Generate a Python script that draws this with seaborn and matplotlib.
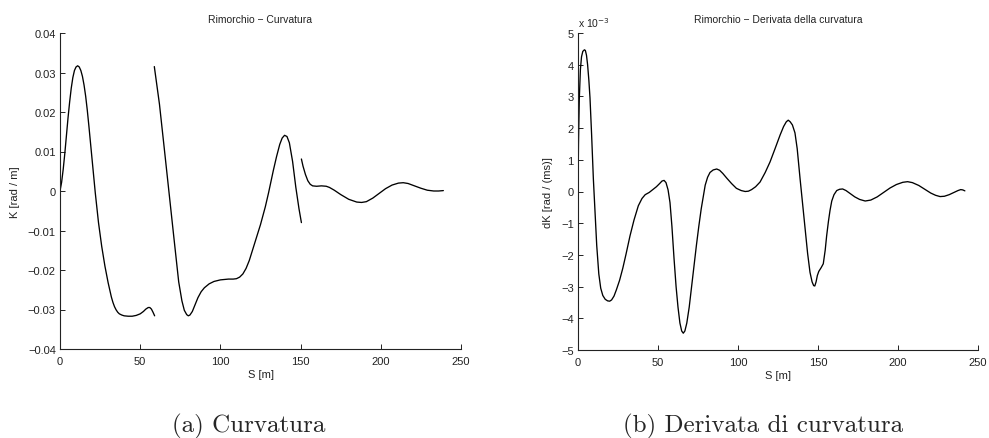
import numpy as np
import pandas as pd
import matplotlib
matplotlib.use("Agg")
import matplotlib.pyplot as plt
import seaborn as sns
from matplotlib.ticker import FuncFormatter, FixedLocator

# ---- data: curvature (three separate segments) ----
s_seg1 = [0, 1, 2, 3, 4, 5, 6, 7, 8, 9, 10, 11, 12, 13, 14, 15, 16, 17, 18, 20, 22, 24,
          26, 28, 30, 32, 33, 34, 35, 36, 37, 38.5, 40, 42.5, 45, 47.5, 50, 52, 53.5,
          55, 56, 57, 58, 59]
k_seg1 = [0, 0.0022, 0.0055, 0.0095, 0.0140, 0.0185, 0.0225, 0.0260, 0.0287, 0.0305,
          0.0314, 0.0317, 0.0314, 0.0305, 0.0290, 0.0268, 0.0240, 0.0205, 0.0165, 0.0080,
          -0.0005, -0.0080, -0.0140, -0.0190, -0.0232, -0.0268, -0.0282, -0.0293,
          -0.0301, -0.0307, -0.0311, -0.0314, -0.0316, -0.0317, -0.0317, -0.0315,
          -0.0311, -0.0305, -0.0299, -0.0295, -0.0295, -0.0299, -0.0307, -0.0316]

s_seg2 = [58.8, 62, 65, 68, 71, 74, 76, 77.5, 79, 80, 81, 82.5, 84, 86, 88, 90, 93, 96,
          100, 105, 108, 110, 112, 114, 116, 118, 120, 122, 125, 128, 130, 133, 135, 137,
          138.5, 140, 141.5, 143, 145, 147, 149, 150.5]
k_seg2 = [0.0315, 0.022, 0.0108, -0.0005, -0.0118, -0.0230, -0.0278, -0.0302, -0.0313,
          -0.0316, -0.0314, -0.0305, -0.0290, -0.0270, -0.0255, -0.0245, -0.0235,
          -0.0229, -0.0225, -0.0223, -0.0223, -0.0222, -0.0218, -0.0210, -0.0196,
          -0.0176, -0.0150, -0.0124, -0.0085, -0.0040, -0.0005, 0.0052, 0.0087, 0.0118,
          0.0134, 0.0141, 0.0138, 0.0122, 0.0075, 0.0010, -0.0045, -0.0080]

s_seg3 = [150.5, 151.5, 153, 154.5, 156, 157.5, 160, 163, 166, 168, 171, 175, 180, 185,
          188, 191, 195, 199, 203, 207, 211, 214, 217, 221, 225, 229, 233, 236, 239]
k_seg3 = [0.0081, 0.0063, 0.0042, 0.0026, 0.0017, 0.0013, 0.0012, 0.0013, 0.0012,
          0.0009, 0.0002, -0.0009, -0.0021, -0.0028, -0.0029, -0.0027, -0.0018, -0.0006,
          0.0006, 0.0015, 0.0020, 0.0021, 0.0019, 0.0013, 0.0007, 0.0002, 0.0, 0.0,
          0.0001]

# ---- data: curvature derivative (units of 1e-3) ----
s_dk = [0, 0.3, 0.8, 1.5, 2.2, 3, 4, 4.6, 5.3, 6, 6.8, 7.5, 8.5, 9.6, 10.7, 11.7, 13,
        14.2, 15.5, 17, 18.5, 19.8, 21, 22.5, 24, 26, 28, 30, 32.5, 35, 37.7, 40, 42,
        44.5, 47, 49, 51, 52.5, 53.8, 55, 56.3, 57.5, 58.7, 60, 61.3, 62.5, 63.7, 64.8,
        65.8, 66.8, 68, 69.5, 71, 72.5, 74, 75.5, 77, 78.3, 79.5, 81, 82.5, 84.5, 86.7,
        88.5, 90.5, 93, 96, 99, 102, 104.5, 106.5, 108.5, 111, 113.8, 117, 120, 123,
        126.3, 128.5, 130.2, 131.4, 132.6, 134, 135.6, 137, 138.8, 140.5, 141.9, 143.5,
        145, 146.3, 147.3, 148, 148.8, 149.6, 150.5, 152, 153.3, 154.5, 155.4, 156.5,
        157.5, 158.6, 160, 161.7, 163.5, 165.4, 167.5, 170, 173, 176, 179.5, 183, 187,
        191, 195, 199, 203, 206, 209, 213, 217, 220.5, 223.5, 226.3, 229, 232, 235,
        237.5, 239.2, 240.5, 241.8]
dk_e3 = [0, 1.5, 2.9, 3.85, 4.25, 4.42, 4.47, 4.45, 4.3, 4.0, 3.5, 2.95, 1.8, 0.4, -0.7,
         -1.7, -2.6, -3.05, -3.28, -3.4, -3.45, -3.46, -3.42, -3.3, -3.1, -2.8, -2.42,
         -1.98, -1.4, -0.9, -0.45, -0.22, -0.1, -0.03, 0.07, 0.15, 0.25, 0.33, 0.35, 0.28,
         0.05, -0.35, -1.1, -2.1, -3.0, -3.65, -4.15, -4.4, -4.47, -4.4, -4.15, -3.65,
         -3.0, -2.35, -1.7, -1.1, -0.55, -0.15, 0.2, 0.45, 0.6, 0.68, 0.71, 0.67, 0.57,
         0.42, 0.25, 0.1, 0.03, 0.0, 0.01, 0.06, 0.15, 0.3, 0.6, 0.93, 1.33, 1.78, 2.05,
         2.2, 2.25, 2.2, 2.1, 1.85, 1.35, 0.4, -0.45, -1.18, -1.95, -2.55, -2.85, -2.97,
         -2.98, -2.85, -2.65, -2.52, -2.4, -2.28, -1.85, -1.4, -0.95, -0.6, -0.3, -0.1,
         0.03, 0.07, 0.08, 0.03, -0.06, -0.17, -0.25, -0.3, -0.27, -0.17, -0.03, 0.11,
         0.22, 0.29, 0.31, 0.28, 0.19, 0.06, -0.05, -0.12, -0.16, -0.15, -0.1, -0.03, 0.03,
         0.06, 0.05, 0.02]

x_ticks = [0, 50, 100, 150, 200, 250]
k_ticks = [-0.04, -0.03, -0.02, -0.01, 0, 0.01, 0.02, 0.03, 0.04]
dk_ticks = [-5, -4, -3, -2, -1, 0, 1, 2, 3, 4, 5]

df_k = pd.DataFrame({
    "S": s_seg1 + s_seg2 + s_seg3,
    "K": k_seg1 + k_seg2 + k_seg3,
    "seg": [1] * len(s_seg1) + [2] * len(s_seg2) + [3] * len(s_seg3),
})
df_dk = pd.DataFrame({"S": s_dk, "dK": dk_e3, "seg": 1})

sns.set_style("white")
plt.rcParams["font.family"] = ["Liberation Sans", "DejaVu Sans"]

fig = plt.figure(figsize=(9.89, 4.39), dpi=100)
ax1 = fig.add_axes([60 / 989, 89 / 439, 401 / 989, 316 / 439])
ax2 = fig.add_axes([578 / 989, 88 / 439, 400 / 989, 317 / 439])

sns.lineplot(data=df_k, x="S", y="K", units="seg", estimator=None, sort=False,
             color="black", linewidth=0.95, ax=ax1)
sns.lineplot(data=df_dk, x="S", y="dK", units="seg", estimator=None, sort=False,
             color="black", linewidth=0.95, ax=ax2)

fmt = FuncFormatter(lambda v, p: ("%g" % round(v, 6)).replace("-", "\u2212"))

for ax, yt, ylab, title, lp in [
    (ax1, k_ticks, "K [rad / m]", "Rimorchio \u2212 Curvatura", 6),
    (ax2, dk_ticks, "dK [rad / (ms)]", "Rimorchio \u2212 Derivata della curvatura", 6),
]:
    ax.set_xlim(0, 250)
    ax.set_ylim(yt[0], yt[-1])
    ax.xaxis.set_major_locator(FixedLocator(x_ticks))
    ax.yaxis.set_major_locator(FixedLocator(yt))
    ax.xaxis.set_major_formatter(fmt)
    ax.yaxis.set_major_formatter(fmt)
    for side in ["top", "right"]:
        ax.spines[side].set_visible(False)
    for side in ["left", "bottom"]:
        ax.spines[side].set_color("#222222")
        ax.spines[side].set_linewidth(0.8)
    ax.tick_params(direction="in", length=3.5, width=0.7, labelsize=8,
                   colors="#222222", pad=3, left=True, bottom=True)
    ax.tick_params(axis="x", pad=5)
    ax.set_xlabel("S [m]", fontsize=8, labelpad=2.5, color="#222222")
    ax.set_ylabel(ylab, fontsize=8, labelpad=lp, color="#222222")
    ax.set_title(title, fontsize=7.5, pad=8, color="#222222")

ax2.text(0.0, 1.012, "x 10$^{-3}$", transform=ax2.transAxes, fontsize=7.5,
         ha="left", va="bottom", color="#222222")

fig.text(172 / 989, 1 - 426 / 439, "(a) Curvatura", family="cmr10", fontsize=18,
         ha="left", va="center")
fig.text(623 / 989, 1 - 426 / 439, "(b) Derivata di curvatura", family="cmr10",
         fontsize=18, ha="left", va="center")

fig.savefig("out.png", dpi=100)
